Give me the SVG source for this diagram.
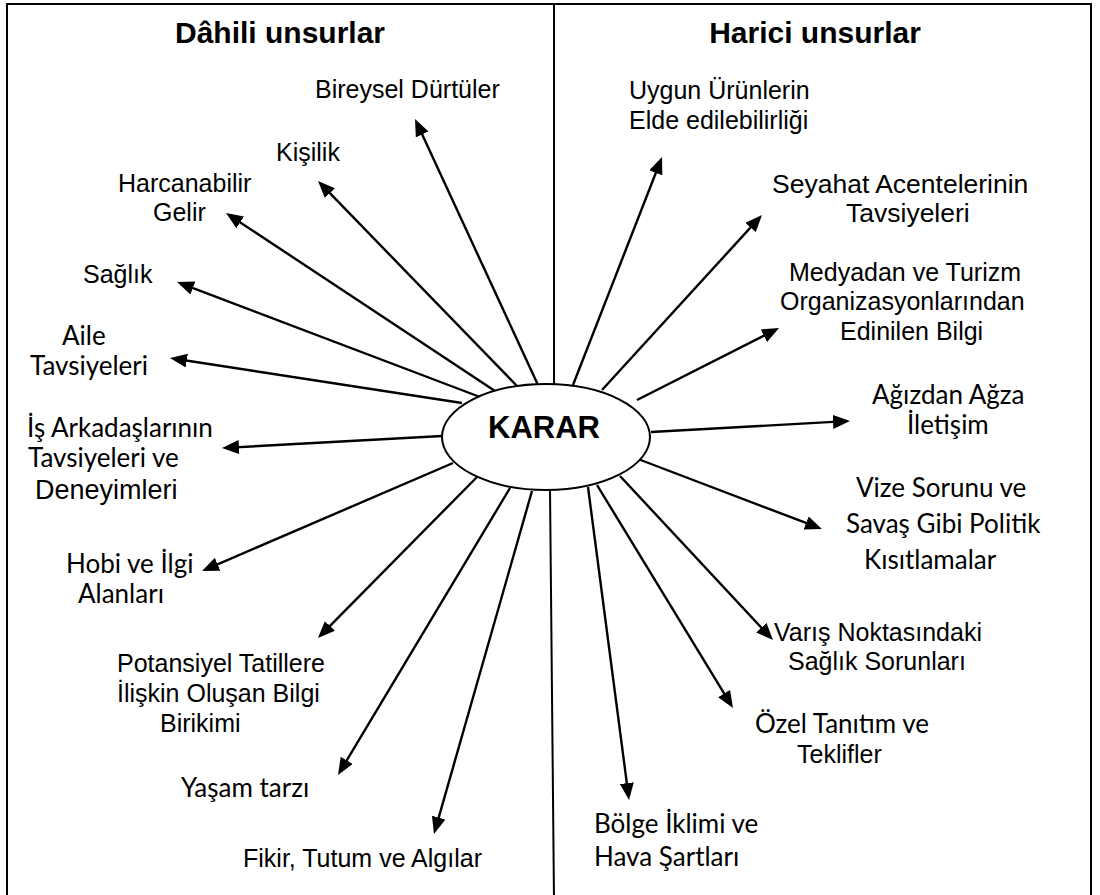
<svg xmlns="http://www.w3.org/2000/svg" width="1100" height="895" viewBox="0 0 1100 895">
<defs>
<style>
.a{font-family:"Liberation Sans",Arial,sans-serif;font-size:25px;fill:#000}
.c{font-family:Lato,"Liberation Sans",sans-serif;font-size:26px;fill:#000}
.t{font-family:"Liberation Sans",Arial,sans-serif;font-size:30px;font-weight:bold;fill:#000}
.k{font-family:"Liberation Sans",Arial,sans-serif;font-size:31px;font-weight:bold;fill:#000}
.ln{stroke:#000;stroke-width:2.4;fill:none;marker-end:url(#ah)}
.fr{stroke:#000;stroke-width:2;fill:none}
</style>
<marker id="ah" markerUnits="userSpaceOnUse" markerWidth="18" markerHeight="15" refX="9" refY="7" orient="auto">
<path d="M0,0 L17,7 L0,14 Z" fill="#000"/>
</marker>
</defs>
<rect width="1100" height="895" fill="#fff"/>
<path class="fr" d="M7,900 V4 H1091 V900"/>
<line class="fr" x1="554" y1="4" x2="554" y2="386"/>
<line class="fr" x1="550" y1="489" x2="554" y2="900"/>
<text class="t" x="280" y="43" text-anchor="middle">Dâhili unsurlar</text>
<text class="t" x="815" y="43" text-anchor="middle">Harici unsurlar</text>
<g id="connectors">
<line class="ln" x1="538" y1="385" x2="418.4" y2="126.3"/>
<line class="ln" x1="518" y1="387" x2="323.6" y2="186.7"/>
<line class="ln" x1="495" y1="391" x2="232.7" y2="217.4"/>
<line class="ln" x1="480" y1="397" x2="184.5" y2="284.8"/>
<line class="ln" x1="462" y1="403" x2="177.9" y2="359.2"/>
<line class="ln" x1="442" y1="436" x2="230" y2="447.6"/>
<line class="ln" x1="453" y1="463" x2="209.4" y2="567.8"/>
<line class="ln" x1="477" y1="477" x2="323.6" y2="632.3"/>
<line class="ln" x1="510" y1="488" x2="342.1" y2="768.1"/>
<line class="ln" x1="532" y1="491" x2="436.2" y2="826.3"/>
<line class="ln" x1="588" y1="487" x2="628" y2="792.1"/>
<line class="ln" x1="597" y1="485" x2="728.8" y2="701.2"/>
<line class="ln" x1="620" y1="476" x2="767.5" y2="634.2"/>
<line class="ln" x1="638" y1="459" x2="814.5" y2="526.2"/>
<line class="ln" x1="651" y1="432" x2="842" y2="421.4"/>
<line class="ln" x1="637" y1="400" x2="771.9" y2="331.6"/>
<line class="ln" x1="602" y1="390" x2="756.6" y2="220.9"/>
<line class="ln" x1="573" y1="385" x2="659.1" y2="164.5"/>
</g>
<g id="karar">
<ellipse cx="546" cy="437" rx="104" ry="53" fill="#fff" stroke="#000" stroke-width="2"/>
<text class="k" x="544" y="438" text-anchor="middle">KARAR</text>
</g>
<g id="n-bireysel"><text class="a" x="315" y="98">Bireysel Dürtüler</text></g>
<g id="n-kisilik"><text class="a" x="276" y="161">Kişilik</text></g>
<g id="n-harcanabilir"><text class="a" x="118" y="192">Harcanabilir</text><text class="a" x="153" y="221">Gelir</text></g>
<g id="n-saglik"><text class="a" x="83" y="283">Sağlık</text></g>
<g id="n-aile"><text class="c" x="62" y="345">Aile</text><text class="c" x="30" y="375">Tavsiyeleri</text></g>
<g id="n-is"><text class="c" x="27" y="437">İş Arkadaşlarının</text><text class="c" x="28" y="467">Tavsiyeleri ve</text><text class="a" x="35" y="499" style="font-size:27px">Deneyimleri</text></g>
<g id="n-hobi"><text class="c" x="66" y="573">Hobi ve İlgi</text><text class="c" x="78" y="603">Alanları</text></g>
<g id="n-potansiyel"><text class="a" x="117" y="672">Potansiyel Tatillere</text><text class="a" x="117" y="702">İlişkin Oluşan Bilgi</text><text class="a" x="160" y="732">Birikimi</text></g>
<g id="n-yasam"><text class="c" x="181" y="797">Yaşam tarzı</text></g>
<g id="n-fikir"><text class="a" x="243" y="867">Fikir, Tutum ve Algılar</text></g>
<g id="n-uygun"><text class="a" x="629" y="99">Uygun Ürünlerin</text><text class="a" x="629" y="129">Elde edilebilirliği</text></g>
<g id="n-seyahat"><text class="a" x="772" y="193" style="font-size:26.5px">Seyahat Acentelerinin</text><text class="a" x="846" y="222" style="font-size:26.5px">Tavsiyeleri</text></g>
<g id="n-medya"><text class="a" x="789" y="281">Medyadan ve Turizm</text><text class="a" x="780" y="310">Organizasyonlarından</text><text class="a" x="840" y="340">Edinilen Bilgi</text></g>
<g id="n-agizdan"><text class="c" x="872" y="404">Ağızdan Ağza</text><text class="c" x="907" y="434">İletişim</text></g>
<g id="n-vize"><text class="c" x="856" y="497">Vize Sorunu ve</text><text class="c" x="846" y="533">Savaş Gibi Politik</text><text class="c" x="864" y="569">Kısıtlamalar</text></g>
<g id="n-varis"><text class="a" x="774" y="641">Varış Noktasındaki</text><text class="a" x="788" y="670">Sağlık Sorunları</text></g>
<g id="n-ozel"><text class="c" x="755" y="733">Özel Tanıtım ve</text><text class="a" x="797" y="763">Teklifler</text></g>
<g id="n-bolge"><text class="c" x="594" y="833">Bölge İklimi ve</text><text class="c" x="594" y="866">Hava Şartları</text></g>
</svg>
